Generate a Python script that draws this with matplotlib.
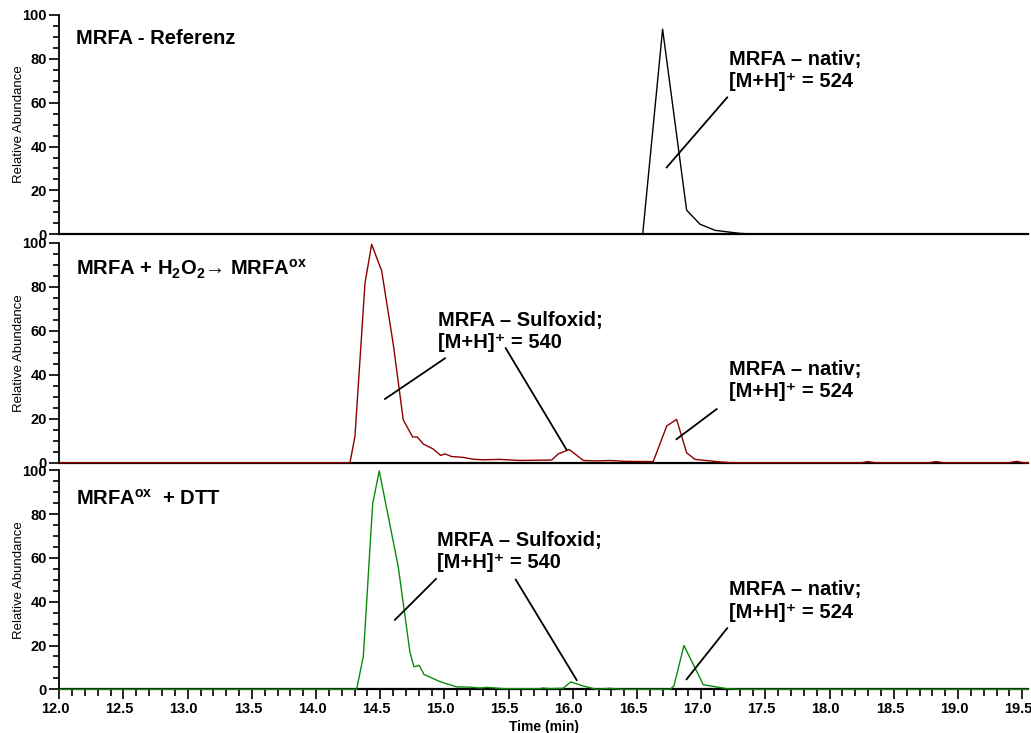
import matplotlib
matplotlib.use("Agg")
import matplotlib.pyplot as plt
import matplotlib.transforms as mtransforms
from matplotlib.ticker import MultipleLocator, FormatStrFormatter

plt.rcParams['font.family'] = ['Liberation Sans', 'DejaVu Sans']
plt.rcParams['mathtext.fontset'] = 'custom'
plt.rcParams['mathtext.rm'] = 'Liberation Sans:bold'
plt.rcParams['mathtext.bf'] = 'Liberation Sans:bold'
plt.rcParams['mathtext.it'] = 'Liberation Sans:bold:italic'
plt.rcParams['mathtext.default'] = 'rm'

# retention time (min) / relative abundance (%) of the three runs
ref_time = [12.0, 16.544, 16.699, 16.886, 16.990, 17.107, 17.301, 17.45, 19.545]
ref_abund = [0, 0, 93.5, 11, 4.6, 1.8, 0.4, 0, 0]

ox_time = [12.0, 14.264, 14.303, 14.381, 14.433, 14.511, 14.601, 14.679, 14.752,
           14.788, 14.835, 14.913, 14.970, 15.004, 15.056, 15.146, 15.222, 15.300,
           15.432, 15.588, 15.835, 15.886, 15.972, 16.081, 16.185, 16.289, 16.406,
           16.626, 16.731, 16.808, 16.886, 16.951, 17.120, 17.224, 18.25, 18.30,
           18.35, 18.78, 18.83, 18.88, 19.40, 19.456, 19.51, 19.545]
ox_abund = [0, 0, 12, 81.7, 99.4, 87.3, 54, 19.5, 11.7,
            11.7, 8.5, 6.2, 3.3, 4.0, 2.8, 2.4, 1.6, 1.3,
            1.5, 1.0, 1.2, 4.0, 6.0, 1.0, 0.8, 1.0, 0.6,
            0.5, 16.7, 19.7, 4.5, 1.5, 0.5, 0, 0, 0.5,
            0, 0, 0.5, 0, 0, 0.6, 0, 0]

dtt_time = [12.0, 14.316, 14.368, 14.441, 14.492, 14.640, 14.731, 14.762, 14.804,
            14.840, 14.965, 15.095, 15.199, 15.276, 15.331, 15.458, 15.744, 15.767,
            15.822, 15.925, 15.983, 16.081, 16.185, 16.289, 16.367, 16.756, 16.787,
            16.865, 17.016, 17.198, 17.301, 19.545]
dtt_abund = [0, 0, 15, 84.8, 99.7, 56, 17, 10.3, 10.9,
             6.8, 3.5, 1.1, 1.0, 0.6, 0.9, 0.3, 0.3, 0.6,
             0.3, 0.5, 3.4, 1.5, 0, 0.5, 0, 0, 1.5,
             20, 2.1, 0.3, 0, 0]

traces = [(ref_time, ref_abund, 'black'),
          (ox_time, ox_abund, '#8b0000'),
          (dtt_time, dtt_abund, '#0b8a0b')]

titles = [('MRFA - Referenz', 86.9),
          ('MRFA + H$_2$O$_2$→ MRFA$^{ox}$', 85.4),
          ('MRFA$^{ox}$  + DTT', 84.2)]

# peak labels: (x, y of first line, y of second line, lines)
sulf = ['MRFA – Sulfoxid;', '[M+H]⁺ = 540']
nativ = ['MRFA – nativ;', '[M+H]⁺ = 524']
peak_labels = [
    [(17.218, 77.2, 67.0, nativ)],
    [(14.952, 62.2, 52.1, sulf), (17.218, 39.8, 29.9, nativ)],
    [(14.944, 65.4, 55.3, sulf), (17.218, 43.0, 32.4, nativ)],
]
# leader lines: ((x0, y0), (x1, y1))
leaders = [
    [((17.202, 62.4), (16.731, 30.5))],
    [((15.004, 47.5), (14.537, 29.0)), ((15.477, 52.1), (15.952, 5.8)),
     ((17.120, 24.4), (16.808, 10.7))],
    [((14.934, 50.4), (14.614, 31.7)), ((15.555, 50.1), (16.030, 4.2)),
     ((17.202, 27.9), (16.886, 4.6))],
]

fig = plt.figure(figsize=(10.31, 7.33), dpi=100)
rects = [(0.0575, 0.6804, 0.9396, 0.2992),
         (0.0575, 0.3688, 0.9396, 0.2997),
         (0.0575, 0.0596, 0.9396, 0.2988)]

for i, rect in enumerate(rects):
    ax = fig.add_axes(rect)
    t, a, c = traces[i]
    ax.plot(t, a, color=c, lw=1.0, clip_on=False, zorder=3)
    ax.set_xlim(12.0, 19.545)
    ax.set_ylim(0, 100)
    ax.spines['top'].set_visible(False)
    ax.spines['right'].set_visible(False)
    ax.spines['left'].set_linewidth(1.3)
    ax.spines['bottom'].set_linewidth(1.6)
    ax.yaxis.set_major_locator(MultipleLocator(20))
    ax.yaxis.set_minor_locator(MultipleLocator(5))
    ax.tick_params(axis='y', which='major', length=7, width=1.2, labelsize=10.5, pad=2)
    ax.tick_params(axis='y', which='minor', length=4, width=1.2)
    for lab in ax.get_yticklabels():
        lab.set_fontweight('bold')
    ax.set_ylabel('Relative Abundance', fontsize=9.5)
    ax.yaxis.set_label_coords(-0.035, 0.5)

    if i < 2:
        ax.tick_params(axis='x', which='both', bottom=False, labelbottom=False)
    else:
        ax.xaxis.set_major_locator(MultipleLocator(0.5))
        ax.xaxis.set_minor_locator(MultipleLocator(0.1))
        ax.xaxis.set_major_formatter(FormatStrFormatter('%.1f'))
        ax.tick_params(axis='x', which='major', length=7, width=1.2, labelsize=10.5, pad=2)
        ax.tick_params(axis='x', which='minor', length=5, width=1.2)
        shift = mtransforms.ScaledTranslation(-4 / 100, 0, fig.dpi_scale_trans)
        for lab in ax.get_xticklabels():
            lab.set_fontweight('bold')
            lab.set_transform(lab.get_transform() + shift)
        ax.set_xlabel('Time (min)', fontsize=10, fontweight='bold', labelpad=3)

    text, ty = titles[i]
    ax.text(12.13, ty, text, fontsize=14.5, fontweight='bold', va='baseline')
    for x, y1, y2, lines in peak_labels[i]:
        ax.text(x, y1, lines[0], fontsize=14.5, fontweight='bold', va='baseline')
        ax.text(x, y2, lines[1], fontsize=14.5, fontweight='bold', va='baseline')
    for (x0, y0), (x1, y1) in leaders[i]:
        ax.plot([x0, x1], [y0, y1], color='black', lw=1.3, zorder=4)

fig.savefig('out.png', dpi=100)
